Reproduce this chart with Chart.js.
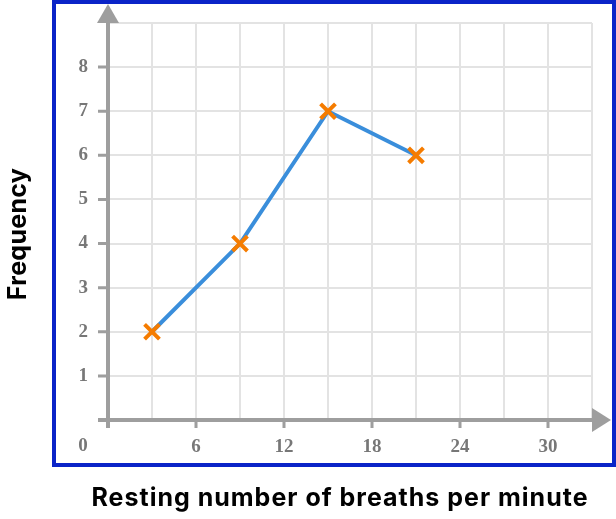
<!DOCTYPE html>
<html>
<head>
<meta charset="utf-8">
<script src="https://cdn.jsdelivr.net/npm/chart.js@4"></script>
<style>
  html, body { margin: 0; padding: 0; background: #fff; }
  #wrap { width: 616px; height: 519px; position: relative; }
</style>
</head>
<body>
<div id="wrap"><canvas id="chart"></canvas></div>
<script>
// midpoints of each class and how often they came up
const breaths = [3, 9, 15, 21];
const frequency = [2, 4, 7, 6];

// which ticks get a label
const xTickLabels = [6, 12, 18, 24, 30];
const yTickLabels = [1, 2, 3, 4, 5, 6, 7, 8];

const xTitle = 'Resting number of breaths per minute';
const yTitle = 'Frequency';

const axisGrey = '#9e9e9e';
const labelGrey = '#777777';
const titleFont = 'bold 25px Inter';
const tickFont = { family: 'Liberation Serif', size: 19, weight: 'bold' };

// axes with arrows, tick marks, corner "0", titles and the blue frame
const decor = {
    id: 'decor',
    beforeDatasetsDraw(chart) {
        const ctx = chart.ctx;
        const x = chart.scales.x;
        const y = chart.scales.y;
        const x0 = x.getPixelForValue(0);
        const xEnd = x.getPixelForValue(x.max);
        const y0 = y.getPixelForValue(0);
        const yEnd = y.getPixelForValue(y.max);

        ctx.save();
        ctx.strokeStyle = axisGrey;
        ctx.fillStyle = axisGrey;
        ctx.lineWidth = 4;
        ctx.beginPath();
        ctx.moveTo(x0 - 10, y0);
        ctx.lineTo(xEnd + 2, y0);
        ctx.moveTo(x0, y0 + 8);
        ctx.lineTo(x0, yEnd - 2);
        ctx.stroke();

        // arrow heads
        ctx.beginPath();
        ctx.moveTo(xEnd, y0 - 12);
        ctx.lineTo(xEnd + 19, y0);
        ctx.lineTo(xEnd, y0 + 12);
        ctx.closePath();
        ctx.fill();
        ctx.beginPath();
        ctx.moveTo(x0 - 11, yEnd);
        ctx.lineTo(x0, yEnd - 19);
        ctx.lineTo(x0 + 11, yEnd);
        ctx.closePath();
        ctx.fill();

        // tick marks
        ctx.lineWidth = 3;
        ctx.beginPath();
        xTickLabels.forEach(v => {
            const px = x.getPixelForValue(v);
            ctx.moveTo(px, y0);
            ctx.lineTo(px, y0 + 8);
        });
        yTickLabels.forEach(v => {
            const py = y.getPixelForValue(v);
            ctx.moveTo(x0 - 10, py);
            ctx.lineTo(x0, py);
        });
        ctx.stroke();
        ctx.restore();
    },
    afterDraw(chart) {
        const ctx = chart.ctx;
        ctx.save();

        // corner zero
        ctx.fillStyle = labelGrey;
        ctx.font = 'bold 19px "Liberation Serif"';
        ctx.textAlign = 'center';
        ctx.textBaseline = 'middle';
        ctx.fillText('0', 83, 446);

        // titles
        ctx.fillStyle = '#000';
        ctx.font = titleFont;
        ctx.textBaseline = 'alphabetic';
        ctx.letterSpacing = '1px';
        ctx.fillText(xTitle, 340, 506);
        ctx.letterSpacing = '0.3px';
        ctx.translate(26, 234);
        ctx.rotate(-Math.PI / 2);
        ctx.fillText(yTitle, 0, 0);
        ctx.restore();

        // frame
        ctx.save();
        ctx.strokeStyle = '#0a24c8';
        ctx.lineWidth = 4;
        ctx.strokeRect(54, 2, 560, 463);
        ctx.restore();
    }
};

const ctx = document.getElementById('chart').getContext('2d');
const myChart = new Chart(ctx, {
    type: 'line',
    data: {
        datasets: [{
            label: 'Frequency',
            data: breaths.map((b, i) => ({ x: b, y: frequency[i] })),
            borderColor: '#3a8edb',
            borderWidth: 4,
            pointStyle: 'crossRot',
            pointRadius: 10.5,
            pointHoverRadius: 10.5,
            pointBorderColor: '#f57c00',
            pointBorderWidth: 4,
            fill: false,
            tension: 0
        }]
    },
    options: {
        responsive: true,
        maintainAspectRatio: false,
        animation: false,
        layout: { padding: { left: 0, top: 23, right: 24, bottom: 0 } },
        plugins: {
            legend: { display: false },
            tooltip: { enabled: false }
        },
        scales: {
            x: {
                type: 'linear',
                min: 0,
                max: 33,
                afterFit: scale => {
                    scale.height = 99;
                    scale.paddingLeft = 0;
                    scale.paddingRight = 0;
                },
                border: { display: false },
                grid: { color: '#e3e3e3', lineWidth: 2, drawTicks: false },
                ticks: {
                    stepSize: 3,
                    padding: 16,
                    color: labelGrey,
                    font: tickFont,
                    maxRotation: 0,
                    autoSkip: false,
                    callback: value => xTickLabels.includes(value) ? String(value) : ''
                }
            },
            y: {
                min: 0,
                max: 9,
                afterFit: scale => {
                    scale.width = 108;
                    scale.paddingTop = 0;
                    scale.paddingBottom = 0;
                },
                border: { display: false },
                grid: { color: '#e3e3e3', lineWidth: 2, drawTicks: false },
                ticks: {
                    stepSize: 1,
                    padding: 20,
                    color: labelGrey,
                    font: tickFont,
                    autoSkip: false,
                    callback: value => yTickLabels.includes(value) ? String(value) : ''
                }
            }
        }
    },
    plugins: [decor]
});
</script>
</body>
</html>
